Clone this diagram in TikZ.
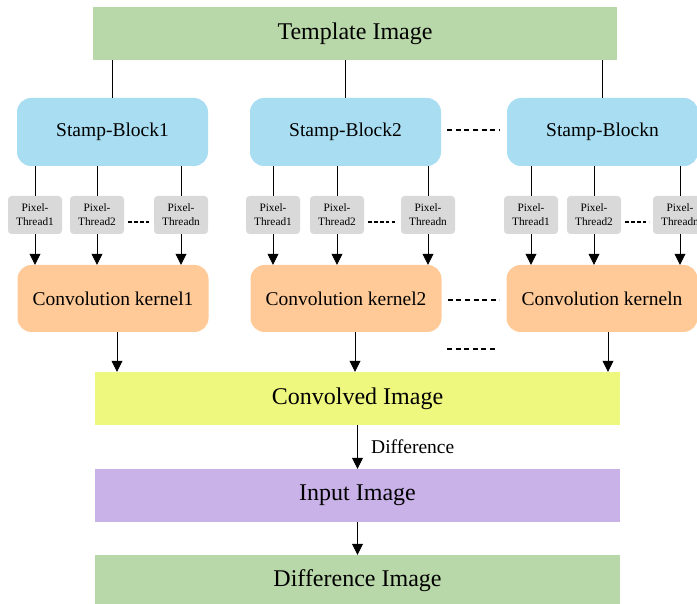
\documentclass[tikz,border=0pt]{standalone}
\usepackage{fontspec}
\setmainfont{Liberation Serif}
\usetikzlibrary{arrows.meta,calc}

\definecolor{imggreen}{HTML}{B9D8A9}
\definecolor{blockblue}{HTML}{A9DEF2}
\definecolor{threadgrey}{HTML}{D9D9D9}
\definecolor{kernelorange}{HTML}{FFCA98}
\definecolor{convyellow}{HTML}{EEF77E}
\definecolor{inputpurple}{HTML}{C9B2E8}

\tikzset{
  bigimg/.style={fill=#1, draw=none, minimum width=525pt, minimum height=53pt,
    inner sep=0pt, font=\fontsize{24}{28}\selectfont},
  stampbox/.style={fill=blockblue, draw=none, rounded corners=14pt,
    minimum width=191pt, minimum height=68pt, inner sep=0pt,
    font=\fontsize{19.5}{23}\selectfont},
  kernelbox/.style={fill=kernelorange, draw=none, rounded corners=14pt,
    minimum width=191pt, minimum height=67pt, inner sep=0pt,
    font=\fontsize{19.5}{23}\selectfont},
  threadbox/.style={fill=threadgrey, draw=none, rounded corners=3.5pt,
    minimum width=54pt, minimum height=38pt, inner sep=0pt, align=center,
    font=\fontsize{11.3}{14}\selectfont},
  link/.style={draw=black, line width=0.8pt},
  arr/.style={link, -{Triangle[width=11pt,length=11pt]}},
  bigdash/.style={line width=2pt, dash pattern=on 5pt off 3.6pt},
  smalldash/.style={line width=2pt, dash pattern=on 3.5pt off 2.4pt},
}

\begin{document}
\begin{tikzpicture}[x=1pt,y=-1pt]
  \useasboundingbox (0,0) rectangle (697,604);
  \clip (0,0) rectangle (697,604);

  % image rows
  \node[bigimg=imggreen, minimum width=524pt] (tmpl) at (355,33.5) {Template Image};
  \node[bigimg=convyellow] (conv) at (357.5,398.5) {Convolved Image};
  \node[bigimg=inputpurple] (inp) at (357.5,495.5) {Input Image};
  \node[bigimg=imggreen, minimum height=51pt] (diff) at (357.5,580.5) {Difference Image};

  % stamp blocks
  \node[stampbox] (sb1) at (112.5,132) {Stamp-Block1};
  \node[stampbox] (sb2) at (345.5,132) {Stamp-Block2};
  \node[stampbox] (sbn) at (602.5,132) {Stamp-Blockn};

  % convolution kernels
  \node[kernelbox] (k1) at (113,298.5) {Convolution kernel1};
  \node[kernelbox] (k2) at (346,298.5) {Convolution kernel2};
  \node[kernelbox] (kn) at (602,298.5) {Convolution kerneln};

  % pixel threads of each block
  \foreach \b/\xa/\xb/\xc in {1/35/97/181, 2/273/337/428, n/531/594/680}{
    \node[threadbox] (t\b a) at (\xa,215) {Pixel-\\Thread1};
    \node[threadbox] (t\b b) at (\xb,215) {Pixel-\\Thread2};
    \node[threadbox] (t\b c) at (\xc,215) {Pixel-\\Threadn};
    \foreach \t in {a,b,c}{
      \draw[link] (t\b\t.north |- sb\b.south) -- (t\b\t.north);
      \draw[arr] (t\b\t.south) -- (t\b\t.south |- k\b.north);
    }
    \draw[smalldash] ($(t\b b.east)+(4,7)$) -- ($(t\b c.west)+(-4,7)$);
  }

  % template to stamp blocks
  \foreach \b in {1,2,n}{
    \draw[link] (tmpl.south -| sb\b.north) -- (sb\b.north);
  }

  % kernels to convolved image
  \draw[arr] ([xshift=4pt]k1.south) -- ([xshift=4pt]k1.south |- conv.north);
  \draw[arr] ([xshift=9pt]k2.south) -- ([xshift=9pt]k2.south |- conv.north);
  \draw[arr] ([xshift=6pt]kn.south) -- ([xshift=6pt]kn.south |- conv.north);

  % ellipses between the columns
  \draw[bigdash] ($(sb2.east)+(6,-2)$) -- ($(sbn.west)+(-7,-2)$);
  \draw[bigdash] ($(k2.east)+(6,1.5)$) -- ($(kn.west)+(-7,1.5)$);
  \draw[bigdash] (447,349) coordinate (e1) -- (497,349) coordinate (e2);

  % difference steps
  \draw[arr] (conv.south) -- node[right=10pt, font=\fontsize{19.5}{22}\selectfont] (dlabel) {Difference} (inp.north);
  \draw[arr] (inp.south) -- (diff.north);
\end{tikzpicture}
\end{document}
